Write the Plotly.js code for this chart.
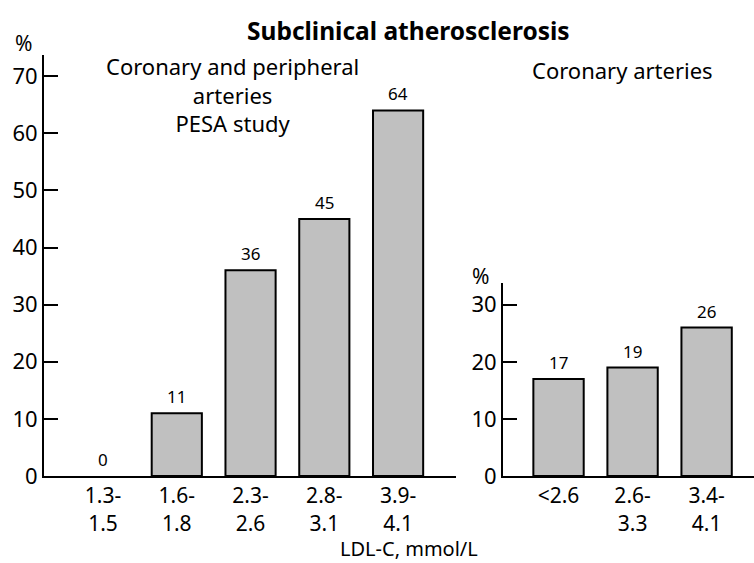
<!DOCTYPE html>
<html>
<head>
<meta charset="utf-8">
<script src="https://cdn.plot.ly/plotly-3.0.1.min.js"></script>
<style>html,body{margin:0;padding:0;background:#fff;}#chart{width:754px;height:563px;}</style>
</head>
<body>
<div id="chart"></div>
<script>
// Left panel: coronary and peripheral arteries (PESA study)
const pesaCategories = ["1.3-<br>1.5", "1.6-<br>1.8", "2.3-<br>2.6", "2.8-<br>3.1", "3.9-<br>4.1"];
const pesaValues = [0, 11, 36, 45, 64];
// Right panel: coronary arteries
const coronaryCategories = ["<2.6", "2.6-<br>3.3", "3.4-<br>4.1"];
const coronaryValues = [17, 19, 26];

const FONT = "Noto Sans, Open Sans, sans-serif";
const barColor = "#c0c0c0";

const traces = [
  {
    type: "bar", x: pesaCategories, y: pesaValues, xaxis: "x", yaxis: "y",
    width: 0.68,
    marker: {color: barColor, line: {color: "#000", width: pesaValues.map(v => v > 0 ? 2 : 0)}},
    hoverinfo: "skip"
  },
  {
    type: "bar", x: coronaryCategories, y: coronaryValues, xaxis: "x2", yaxis: "y2",
    width: 0.68, marker: {color: barColor, line: {color: "#000", width: 2}},
    hoverinfo: "skip"
  }
];

const valueAnn = [];
pesaCategories.forEach((c, i) => valueAnn.push({
  xref: "x", yref: "y", x: c, y: pesaValues[i], text: String(pesaValues[i]),
  showarrow: false, yanchor: "bottom", yshift: 3, font: {size: 17, color: "#000", family: FONT}
}));
coronaryCategories.forEach((c, i) => valueAnn.push({
  xref: "x2", yref: "y2", x: c, y: coronaryValues[i], text: String(coronaryValues[i]),
  showarrow: false, yanchor: "bottom", yshift: 3, font: {size: 17, color: "#000", family: FONT}
}));

const axisCommon = {
  showline: true, linecolor: "#000", linewidth: 2, showgrid: false, zeroline: false,
  tickfont: {size: 22, color: "#000", family: FONT}, fixedrange: true
};
const xTickFont = {size: 21, color: "#000", family: FONT};

const layout = {
  width: 754, height: 563,
  margin: {l: 0, r: 0, t: 0, b: 0},
  paper_bgcolor: "#fff", plot_bgcolor: "#fff",
  showlegend: false,
  font: {family: FONT, color: "#000"},
  xaxis: Object.assign({}, axisCommon, {
    domain: [44/754, 456/754], range: [-0.80, 4.785], ticks: "", type: "category",
    anchor: "y", tickfont: xTickFont
  }),
  yaxis: Object.assign({}, axisCommon, {
    domain: [(563-476)/563, (563-55)/563], range: [0, 73.7], dtick: 10,
    ticks: "inside", ticklen: 14, tickwidth: 2, tickcolor: "#000", anchor: "x"
  }),
  xaxis2: Object.assign({}, axisCommon, {
    domain: [503/754, 1], range: [-0.75, 2.64], ticks: "", type: "category",
    anchor: "y2", tickfont: xTickFont
  }),
  yaxis2: Object.assign({}, axisCommon, {
    domain: [(563-476)/563, (563-283)/563], range: [0, 33.8], dtick: 10,
    ticks: "inside", ticklen: 14, tickwidth: 2, tickcolor: "#000", anchor: "x2"
  }),
  annotations: valueAnn.concat([
    {xref: "paper", yref: "paper", x: 408/754, y: 1 - 30/563, text: "<b>Subclinical atherosclerosis</b>",
     showarrow: false, xanchor: "center", yanchor: "middle", font: {size: 24.5, family: FONT}},
    {xref: "paper", yref: "paper", x: 232/754, y: 1 - 95/563,
     text: "Coronary and peripheral<br>arteries<br>PESA study",
     showarrow: false, xanchor: "center", yanchor: "middle", font: {size: 22, family: FONT}},
    {xref: "paper", yref: "paper", x: 622/754, y: 1 - 70/563, text: "Coronary arteries",
     showarrow: false, xanchor: "center", yanchor: "middle", font: {size: 22, family: FONT}},
    {xref: "paper", yref: "paper", x: 23/754, y: 1 - 43/563, text: "%",
     showarrow: false, xanchor: "center", yanchor: "middle", font: {size: 21, family: FONT}},
    {xref: "paper", yref: "paper", x: 480/754, y: 1 - 276/563, text: "%",
     showarrow: false, xanchor: "center", yanchor: "middle", font: {size: 21, family: FONT}},
    {xref: "paper", yref: "paper", x: 409/754, y: 0, text: "LDL-C, mmol/L",
     showarrow: false, xanchor: "center", yanchor: "bottom", borderpad: 0, font: {size: 20, family: FONT}}
  ])
};

Plotly.newPlot("chart", traces, layout, {staticPlot: true, displayModeBar: false});
</script>
</body>
</html>
